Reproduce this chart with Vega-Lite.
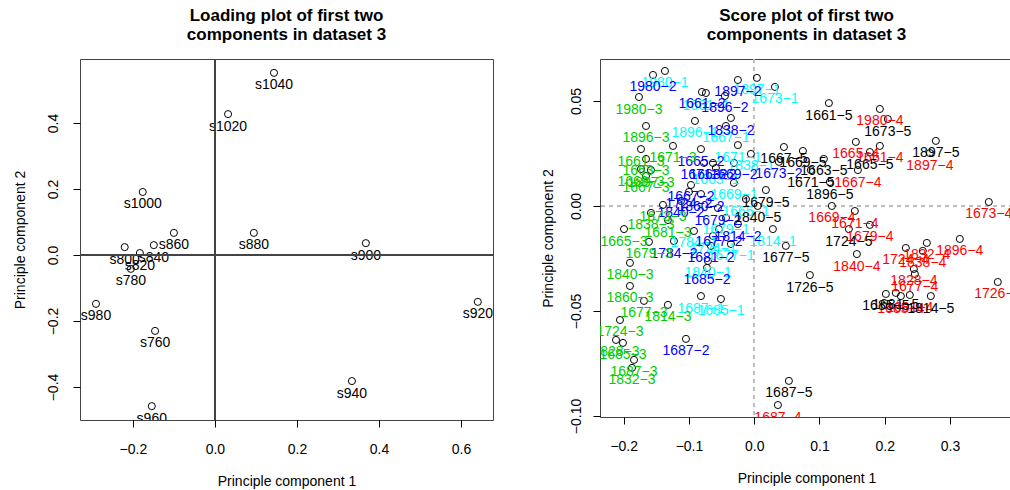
{
  "$schema": "https://vega.github.io/schema/vega-lite/v6.json",
  "background": "white",
  "padding": {"left": 12, "top": 6, "right": 0, "bottom": 0},
  "bounds": "flush",
  "spacing": 107,
  "config": {
    "font": "Liberation Sans",
    "view": {"stroke": "#444444", "strokeWidth": 1},
    "axis": {
      "domain": false, "grid": false, "ticks": true,
      "tickColor": "#000000", "tickSize": 7, "tickWidth": 1,
      "labelFont": "Liberation Sans", "labelFontSize": 14, "labelColor": "#000000",
      "titleFont": "Liberation Sans", "titleFontSize": 14, "titleFontWeight": "normal", "titleColor": "#000000"
    },
    "axisX": {"labelPadding": 15, "titlePadding": 18, "labelFlush": false, "labelOverlap": false},
    "axisY": {"labelAngle": -90, "labelAlign": "center", "labelBaseline": "bottom", "labelPadding": 12, "titlePadding": 14, "labelFlush": false, "labelOverlap": false},
    "title": {"font": "Liberation Sans", "fontSize": 17, "fontWeight": "bold", "color": "#000000", "lineHeight": 19, "offset": 15, "anchor": "middle"}
  },
  "datasets": {
    "loadings": [
      {"id": "s760", "x": -0.146, "y": -0.230},
      {"id": "s780", "x": -0.205, "y": -0.042},
      {"id": "s800", "x": -0.220, "y": 0.024},
      {"id": "s820", "x": -0.183, "y": 0.006},
      {"id": "s840", "x": -0.149, "y": 0.030},
      {"id": "s860", "x": -0.100, "y": 0.067},
      {"id": "s880", "x": 0.095, "y": 0.067},
      {"id": "s900", "x": 0.368, "y": 0.036},
      {"id": "s920", "x": 0.641, "y": -0.142},
      {"id": "s940", "x": 0.334, "y": -0.382},
      {"id": "s960", "x": -0.154, "y": -0.458},
      {"id": "s980", "x": -0.290, "y": -0.148},
      {"id": "s1000", "x": -0.176, "y": 0.191},
      {"id": "s1020", "x": 0.032, "y": 0.427},
      {"id": "s1040", "x": 0.144, "y": 0.552}
    ],
    "scores": [
      {"id": "1980−1", "r": "1", "x": -0.1368, "y": 0.0643},
      {"id": "1897−1", "r": "1", "x": 0.0041, "y": 0.0610},
      {"id": "1673−1", "r": "1", "x": 0.0317, "y": 0.0567},
      {"id": "1661−1", "r": "1", "x": -0.0740, "y": 0.0538},
      {"id": "1896−1", "r": "1", "x": -0.0908, "y": 0.0405},
      {"id": "1667−1", "r": "1", "x": -0.0433, "y": 0.0381},
      {"id": "1671−1", "r": "1", "x": -0.0250, "y": 0.0290},
      {"id": "1838−1", "r": "1", "x": -0.0051, "y": 0.0248},
      {"id": "1663−1", "r": "1", "x": -0.0587, "y": 0.0181},
      {"id": "1669−1", "r": "1", "x": -0.0311, "y": 0.0110},
      {"id": "1665−1", "r": "1", "x": -0.0127, "y": 0.0033},
      {"id": "1679−1", "r": "1", "x": -0.0433, "y": -0.0057},
      {"id": "1814−1", "r": "1", "x": 0.0286, "y": -0.0110},
      {"id": "1784−1", "r": "1", "x": -0.0923, "y": -0.0119},
      {"id": "1724−1", "r": "1", "x": -0.0632, "y": -0.0143},
      {"id": "1677−1", "r": "1", "x": -0.0357, "y": -0.0181},
      {"id": "1840−1", "r": "1", "x": -0.0709, "y": -0.0262},
      {"id": "1687−1", "r": "1", "x": -0.0816, "y": -0.0429},
      {"id": "1685−1", "r": "1", "x": -0.0510, "y": -0.0443},
      {"id": "1980−2", "r": "2", "x": -0.1551, "y": 0.0624},
      {"id": "1897−2", "r": "2", "x": -0.0250, "y": 0.0600},
      {"id": "1661−2", "r": "2", "x": -0.0801, "y": 0.0543},
      {"id": "1896−2", "r": "2", "x": -0.0449, "y": 0.0524},
      {"id": "1838−2", "r": "2", "x": -0.0357, "y": 0.0419},
      {"id": "1665−2", "r": "2", "x": -0.0816, "y": 0.0271},
      {"id": "1671−2", "r": "2", "x": -0.0770, "y": 0.0205},
      {"id": "1663−2", "r": "2", "x": -0.0632, "y": 0.0205},
      {"id": "1669−2", "r": "2", "x": -0.0311, "y": 0.0205},
      {"id": "1673−2", "r": "2", "x": 0.0378, "y": 0.0210},
      {"id": "1667−2", "r": "2", "x": -0.0969, "y": 0.0100},
      {"id": "1724−2", "r": "2", "x": -0.1000, "y": 0.0067},
      {"id": "1860−2", "r": "2", "x": -0.0816, "y": 0.0057},
      {"id": "1840−2", "r": "2", "x": -0.1123, "y": 0.0024},
      {"id": "1679−2", "r": "2", "x": -0.0556, "y": -0.0010},
      {"id": "1814−2", "r": "2", "x": -0.0250, "y": -0.0086},
      {"id": "1677−2", "r": "2", "x": -0.0541, "y": -0.0110},
      {"id": "1784−2", "r": "2", "x": -0.1230, "y": -0.0167},
      {"id": "1681−2", "r": "2", "x": -0.0663, "y": -0.0190},
      {"id": "1685−2", "r": "2", "x": -0.0724, "y": -0.0295},
      {"id": "1687−2", "r": "2", "x": -0.1046, "y": -0.0633},
      {"id": "1980−3", "r": "3", "x": -0.1766, "y": 0.0519},
      {"id": "1896−3", "r": "3", "x": -0.1658, "y": 0.0381},
      {"id": "1671−3", "r": "3", "x": -0.1245, "y": 0.0286},
      {"id": "1661−3", "r": "3", "x": -0.1735, "y": 0.0271},
      {"id": "1663−3", "r": "3", "x": -0.1658, "y": 0.0224},
      {"id": "1669−3", "r": "3", "x": -0.1735, "y": 0.0176},
      {"id": "1897−3", "r": "3", "x": -0.1582, "y": 0.0171},
      {"id": "1667−3", "r": "3", "x": -0.1658, "y": 0.0143},
      {"id": "1673−3", "r": "3", "x": -0.1398, "y": 0.0005},
      {"id": "1838−3", "r": "3", "x": -0.1582, "y": -0.0033},
      {"id": "1681−3", "r": "3", "x": -0.1322, "y": -0.0067},
      {"id": "1665−3", "r": "3", "x": -0.1995, "y": -0.0110},
      {"id": "1679−3", "r": "3", "x": -0.1613, "y": -0.0171},
      {"id": "1840−3", "r": "3", "x": -0.1904, "y": -0.0271},
      {"id": "1860−3", "r": "3", "x": -0.1904, "y": -0.0381},
      {"id": "1677−3", "r": "3", "x": -0.1689, "y": -0.0452},
      {"id": "1814−3", "r": "3", "x": -0.1322, "y": -0.0471},
      {"id": "1724−3", "r": "3", "x": -0.2057, "y": -0.0543},
      {"id": "1828−3", "r": "3", "x": -0.2118, "y": -0.0638},
      {"id": "1685−3", "r": "3", "x": -0.2011, "y": -0.0652},
      {"id": "1687−3", "r": "3", "x": -0.1842, "y": -0.0733},
      {"id": "1832−3", "r": "3", "x": -0.1873, "y": -0.0771},
      {"id": "1980−4", "r": "4", "x": 0.1925, "y": 0.0462},
      {"id": "1665−4", "r": "4", "x": 0.1557, "y": 0.0305},
      {"id": "1661−4", "r": "4", "x": 0.1925, "y": 0.0286},
      {"id": "1897−4", "r": "4", "x": 0.2691, "y": 0.0252},
      {"id": "1667−4", "r": "4", "x": 0.1588, "y": 0.0171},
      {"id": "1673−4", "r": "4", "x": 0.3594, "y": 0.0019},
      {"id": "1669−4", "r": "4", "x": 0.1190, "y": 0.0000},
      {"id": "1671−4", "r": "4", "x": 0.1542, "y": -0.0024},
      {"id": "1679−4", "r": "4", "x": 0.1772, "y": -0.0090},
      {"id": "1832−4", "r": "4", "x": 0.2645, "y": -0.0176},
      {"id": "1724−4", "r": "4", "x": 0.2323, "y": -0.0200},
      {"id": "1896−4", "r": "4", "x": 0.3150, "y": -0.0157},
      {"id": "1838−4", "r": "4", "x": 0.2583, "y": -0.0214},
      {"id": "1840−4", "r": "4", "x": 0.1573, "y": -0.0229},
      {"id": "1828−4", "r": "4", "x": 0.2446, "y": -0.0300},
      {"id": "1677−4", "r": "4", "x": 0.2461, "y": -0.0324},
      {"id": "1726−4", "r": "4", "x": 0.3732, "y": -0.0362},
      {"id": "1685−4", "r": "4", "x": 0.2247, "y": -0.0429},
      {"id": "1681−4", "r": "4", "x": 0.2384, "y": -0.0424},
      {"id": "1687−4", "r": "4", "x": 0.0363, "y": -0.0948},
      {"id": "1661−5", "r": "5", "x": 0.1144, "y": 0.0490},
      {"id": "1673−5", "r": "5", "x": 0.2047, "y": 0.0414},
      {"id": "1897−5", "r": "5", "x": 0.2783, "y": 0.0310},
      {"id": "1665−5", "r": "5", "x": 0.1772, "y": 0.0257},
      {"id": "1669−5", "r": "5", "x": 0.0746, "y": 0.0262},
      {"id": "1667−5", "r": "5", "x": 0.0455, "y": 0.0281},
      {"id": "1663−5", "r": "5", "x": 0.1067, "y": 0.0224},
      {"id": "1671−5", "r": "5", "x": 0.0868, "y": 0.0171},
      {"id": "1896−5", "r": "5", "x": 0.1159, "y": 0.0114},
      {"id": "1679−5", "r": "5", "x": 0.0179, "y": 0.0076},
      {"id": "1840−5", "r": "5", "x": 0.0054, "y": 0.0000},
      {"id": "1724−5", "r": "5", "x": 0.1450, "y": -0.0110},
      {"id": "1677−5", "r": "5", "x": 0.0485, "y": -0.0190},
      {"id": "1726−5", "r": "5", "x": 0.0853, "y": -0.0329},
      {"id": "1685−5", "r": "5", "x": 0.2017, "y": -0.0419},
      {"id": "1681−5", "r": "5", "x": 0.2170, "y": -0.0414},
      {"id": "1814−5", "r": "5", "x": 0.2706, "y": -0.0429},
      {"id": "1687−5", "r": "5", "x": 0.0531, "y": -0.0833}
    ]
  },
  "hconcat": [
    {
      "width": 413,
      "height": 361,
      "title": {"text": ["Loading plot of first two", " components in dataset 3"]},
      "data": {"name": "loadings"},
      "layer": [
        {
          "mark": {"type": "point", "shape": "circle", "filled": false, "size": 50, "stroke": "#000000", "strokeWidth": 1, "opacity": 1},
          "encoding": {
            "x": {"field": "x", "type": "quantitative", "scale": {"domain": [-0.329, 0.678], "nice": false, "zero": false},
                  "axis": {"values": [-0.2, 0, 0.2, 0.4, 0.6], "format": ".1f", "title": "Principle component 1"}},
            "y": {"field": "y", "type": "quantitative", "scale": {"domain": [-0.5, 0.594], "nice": false, "zero": false},
                  "axis": {"values": [-0.4, -0.2, 0, 0.2, 0.4], "format": ".1f", "title": "Principle component 2", "titlePadding": 19, "labelPadding": 13}}
          }
        },
        {
          "mark": {"type": "text", "fontSize": 14, "font": "Liberation Sans", "baseline": "middle", "align": "center", "dy": 12.5, "clip": true, "color": "#000000"},
          "encoding": {
            "x": {"field": "x", "type": "quantitative"},
            "y": {"field": "y", "type": "quantitative"},
            "text": {"field": "id"}
          }
        },
        {
          "mark": {"type": "rule", "color": "#444444", "strokeWidth": 1},
          "encoding": {"x": {"datum": 0, "type": "quantitative"}}
        },
        {
          "mark": {"type": "rule", "color": "#444444", "strokeWidth": 1},
          "encoding": {"y": {"datum": 0, "type": "quantitative"}}
        }
      ]
    },
    {
      "width": 413,
      "height": 358,
      "title": {"text": ["Score plot of first two", " components in dataset 3"]},
      "data": {"name": "scores"},
      "layer": [
        {
          "mark": {"type": "rule", "color": "#BEBEBE", "strokeWidth": 1, "strokeDash": [4, 4]},
          "encoding": {"x": {"datum": 0, "type": "quantitative"}}
        },
        {
          "mark": {"type": "rule", "color": "#BEBEBE", "strokeWidth": 1, "strokeDash": [4, 4]},
          "encoding": {"y": {"datum": 0, "type": "quantitative"}}
        },
        {
          "mark": {"type": "point", "shape": "circle", "filled": false, "size": 50, "stroke": "#000000", "strokeWidth": 1, "opacity": 1},
          "encoding": {
            "x": {"field": "x", "type": "quantitative", "scale": {"domain": [-0.2363, 0.3965], "nice": false, "zero": false},
                  "axis": {"values": [-0.2, -0.1, 0, 0.1, 0.2, 0.3], "format": ".1f", "title": "Principle component 1"}},
            "y": {"field": "y", "type": "quantitative", "scale": {"domain": [-0.1005, 0.070], "nice": false, "zero": false},
                  "axis": {"values": [-0.1, -0.05, 0, 0.05], "format": ".2f", "title": "Principle component 2", "labelPadding": 10}}
          }
        },
        {
          "mark": {"type": "text", "fontSize": 14, "font": "Liberation Sans", "baseline": "middle", "align": "center", "dy": 12.5, "clip": true},
          "encoding": {
            "x": {"field": "x", "type": "quantitative"},
            "y": {"field": "y", "type": "quantitative"},
            "text": {"field": "id"},
            "color": {"field": "r", "type": "nominal", "scale": {"domain": ["1", "2", "3", "4", "5"], "range": ["#00FFFF", "#0000FF", "#00CD00", "#FF0000", "#000000"]}, "legend": null}
          }
        }
      ]
    }
  ]
}
